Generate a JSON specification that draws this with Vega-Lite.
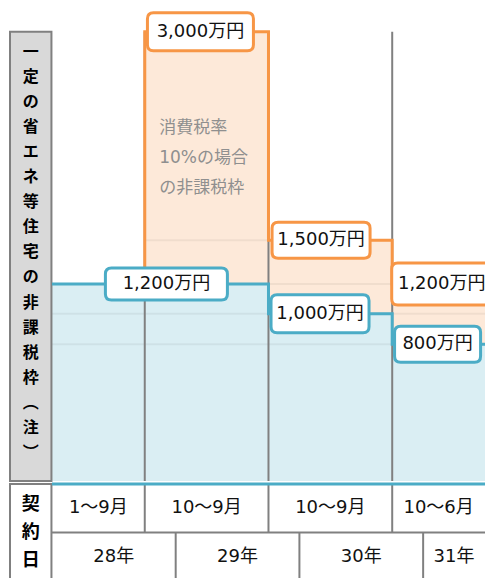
{
  "$schema": "https://vega.github.io/schema/vega-lite/v6.json",
  "padding": 0,
  "background": "white",
  "spacing": 0,
  "config": {"view": {"stroke": null}},
  "datasets": {
    "steps": [
      {"series": "orange", "month": 9, "value": 1200},
      {"series": "orange", "month": 21, "value": 3000},
      {"series": "orange", "month": 33, "value": 1500},
      {"series": "orange", "month": 42, "value": 1200},
      {"series": "blue", "month": 0, "value": 1200},
      {"series": "blue", "month": 21, "value": 1200},
      {"series": "blue", "month": 33, "value": 1000},
      {"series": "blue", "month": 42, "value": 800}
    ],
    "grid": [
      {"value": 1500, "from": 9, "to": 33},
      {"value": 1200, "from": 0, "to": 42},
      {"value": 1000, "from": 0, "to": 42},
      {"value": 800, "from": 0, "to": 42}
    ],
    "dividers": [{"month": 9}, {"month": 21}, {"month": 33}],
    "labels": [
      {"name": "o3000", "series": "orange", "month": 14.4, "value": 3000, "label": "3,000万円"},
      {"name": "o1500", "series": "orange", "month": 26.1, "value": 1500, "label": "1,500万円"},
      {"name": "o1200", "series": "orange", "month": 37.8, "value": 1200, "label": "1,200万円"},
      {"name": "b1200", "series": "blue", "month": 11.1, "value": 1200, "label": "1,200万円"},
      {"name": "b1000", "series": "blue", "month": 26.0, "value": 1000, "label": "1,000万円"},
      {"name": "b800", "series": "blue", "month": 37.4, "value": 800, "label": "800万円"}
    ],
    "notes": [
      {"text": "消費税率\n10%の場合\nの非課税枠", "month": 10.4, "value": 2295}
    ],
    "sidetitle": [
      {"text": "一\n定\nの\n省\nエ\nネ\n等\n住\n宅\nの\n非\n課\n税\n枠\n︵\n注\n︶", "month": -2.06, "value": 2850}
    ],
    "cells": [
      {"label": "1～9月", "mid": 4.5, "row": 1.5},
      {"label": "10～9月", "mid": 15, "row": 1.5},
      {"label": "10～9月", "mid": 27, "row": 1.5},
      {"label": "10～6月", "mid": 37.5, "row": 1.5},
      {"label": "28年", "mid": 6, "row": 0.5},
      {"label": "29年", "mid": 18, "row": 0.5},
      {"label": "30年", "mid": 30, "row": 0.5},
      {"label": "31年", "mid": 39, "row": 0.5}
    ],
    "tlines": [
      {"month": 9, "lo": 1, "hi": 2},
      {"month": 21, "lo": 1, "hi": 2},
      {"month": 33, "lo": 1, "hi": 2},
      {"month": 12, "lo": 0, "hi": 1},
      {"month": 24, "lo": 0, "hi": 1},
      {"month": 36, "lo": 0, "hi": 1}
    ],
    "tabletitle": [
      {"text": "契\n約\n日", "month": -2.06, "row": 1.57}
    ]
  },
  "vconcat": [
    {
      "width": 485,
      "height": 481,
      "layer": [
        {
          "data": {"name": "steps"},
          "transform": [{"filter": "datum.series === 'orange'"}],
          "mark": {"type": "area", "interpolate": "step-before", "color": "#fde9d9", "opacity": 1},
          "encoding": {
            "x": {"field": "month", "type": "quantitative", "axis": null, "scale": {"domain": [-5.04, 42], "nice": false, "zero": false}},
            "y": {"field": "value", "type": "quantitative", "axis": null, "scale": {"type": "pow", "exponent": 0.9, "domain": [0, 3236], "nice": false, "zero": true}}
          }
        },
        {
          "data": {"name": "steps"},
          "transform": [{"filter": "datum.series === 'blue'"}],
          "mark": {"type": "area", "interpolate": "step-before", "color": "#daeef3", "opacity": 1},
          "encoding": {
            "x": {"field": "month", "type": "quantitative", "axis": null, "scale": {"domain": [-5.04, 42], "nice": false, "zero": false}},
            "y": {"field": "value", "type": "quantitative", "axis": null, "scale": {"type": "pow", "exponent": 0.9, "domain": [0, 3236], "nice": false, "zero": true}}
          }
        },
        {
          "data": {"name": "grid"},
          "mark": {"type": "rule", "color": "#000000", "opacity": 0.05, "strokeWidth": 2},
          "encoding": {
            "x": {"field": "from", "type": "quantitative", "axis": null, "scale": {"domain": [-5.04, 42], "nice": false, "zero": false}},
            "x2": {"field": "to"},
            "y": {"field": "value", "type": "quantitative", "axis": null, "scale": {"type": "pow", "exponent": 0.9, "domain": [0, 3236], "nice": false, "zero": true}}
          }
        },
        {
          "data": {"name": "dividers"},
          "mark": {"type": "rule", "color": "#808080", "strokeWidth": 2},
          "encoding": {
            "x": {"field": "month", "type": "quantitative", "axis": null, "scale": {"domain": [-5.04, 42], "nice": false, "zero": false}},
            "y": {"datum": 0, "type": "quantitative", "axis": null, "scale": {"type": "pow", "exponent": 0.9, "domain": [0, 3236], "nice": false, "zero": true}},
            "y2": {"datum": 3000}
          }
        },
        {
          "data": {"values": [{}]},
          "mark": {"type": "rect", "fill": "#d9d9d9", "stroke": "#808080", "strokeWidth": 2},
          "encoding": {
            "x": {"datum": -4.07, "type": "quantitative", "axis": null, "scale": {"domain": [-5.04, 42], "nice": false, "zero": false}},
            "x2": {"datum": -0.05},
            "y": {"datum": 0, "type": "quantitative", "axis": null, "scale": {"type": "pow", "exponent": 0.9, "domain": [0, 3236], "nice": false, "zero": true}},
            "y2": {"datum": 3000}
          }
        },
        {
          "data": {"name": "steps"},
          "transform": [{"filter": "datum.series === 'orange'"}],
          "mark": {"type": "line", "interpolate": "step-before", "color": "#f79646", "strokeWidth": 3},
          "encoding": {
            "x": {"field": "month", "type": "quantitative", "axis": null, "scale": {"domain": [-5.04, 42], "nice": false, "zero": false}},
            "y": {"field": "value", "type": "quantitative", "axis": null, "scale": {"type": "pow", "exponent": 0.9, "domain": [0, 3236], "nice": false, "zero": true}}
          }
        },
        {
          "data": {"name": "steps"},
          "transform": [{"filter": "datum.series === 'blue'"}],
          "mark": {"type": "line", "interpolate": "step-before", "color": "#4bacc6", "strokeWidth": 3},
          "encoding": {
            "x": {"field": "month", "type": "quantitative", "axis": null, "scale": {"domain": [-5.04, 42], "nice": false, "zero": false}},
            "y": {"field": "value", "type": "quantitative", "axis": null, "scale": {"type": "pow", "exponent": 0.9, "domain": [0, 3236], "nice": false, "zero": true}}
          }
        },
        {
          "data": {"name": "notes"},
          "mark": {"type": "text", "align": "left", "baseline": "middle", "lineBreak": "\n", "lineHeight": 30, "fontSize": 17, "font": "DejaVu Sans, Noto Sans CJK JP", "color": "#8f8f8f"},
          "encoding": {
            "x": {"field": "month", "type": "quantitative", "axis": null, "scale": {"domain": [-5.04, 42], "nice": false, "zero": false}},
            "y": {"field": "value", "type": "quantitative", "axis": null, "scale": {"type": "pow", "exponent": 0.9, "domain": [0, 3236], "nice": false, "zero": true}},
            "text": {"field": "text"}
          }
        },
        {
          "data": {"name": "sidetitle"},
          "mark": {"type": "text", "align": "center", "baseline": "middle", "lineBreak": "\n", "lineHeight": 25.06, "fontSize": 16, "fontWeight": "bold", "font": "Noto Sans CJK JP", "color": "#000000"},
          "encoding": {
            "x": {"field": "month", "type": "quantitative", "axis": null, "scale": {"domain": [-5.04, 42], "nice": false, "zero": false}},
            "y": {"field": "value", "type": "quantitative", "axis": null, "scale": {"type": "pow", "exponent": 0.9, "domain": [0, 3236], "nice": false, "zero": true}},
            "text": {"field": "text"}
          }
        },
        {
          "data": {"name": "labels"},
          "mark": {"type": "point", "filled": false, "fill": "white", "fillOpacity": 1, "opacity": 1, "strokeWidth": 3, "size": 10000},
          "encoding": {
            "x": {"field": "month", "type": "quantitative", "axis": null, "scale": {"domain": [-5.04, 42], "nice": false, "zero": false}},
            "y": {"field": "value", "type": "quantitative", "axis": null, "scale": {"type": "pow", "exponent": 0.9, "domain": [0, 3236], "nice": false, "zero": true}},
            "stroke": {"field": "series", "type": "nominal", "legend": null, "scale": {"domain": ["orange", "blue"], "range": ["#f79646", "#4bacc6"]}},
            "shape": {"field": "name", "type": "nominal", "legend": null, "scale": {
              "domain": ["o3000", "o1500", "o1200", "b1200", "b1000", "b800"],
              "range": [
                "M-0.94,-0.38 L0.94,-0.38 Q1.06,-0.38 1.06,-0.26 L1.06,0.26 Q1.06,0.38 0.94,0.38 L-0.94,0.38 Q-1.06,0.38 -1.06,0.26 L-1.06,-0.26 Q-1.06,-0.38 -0.94,-0.38 Z",
                "M-0.86,-0.36 L0.86,-0.36 Q0.98,-0.36 0.98,-0.24 L0.98,0.24 Q0.98,0.36 0.86,0.36 L-0.86,0.36 Q-0.98,0.36 -0.98,0.24 L-0.98,-0.24 Q-0.98,-0.36 -0.86,-0.36 Z",
                "M-0.88,-0.42 L0.88,-0.42 Q1,-0.42 1,-0.3 L1,0.3 Q1,0.42 0.88,0.42 L-0.88,0.42 Q-1,0.42 -1,0.3 L-1,-0.3 Q-1,-0.42 -0.88,-0.42 Z",
                "M-1.1,-0.32 L1.1,-0.32 Q1.22,-0.32 1.22,-0.2 L1.22,0.2 Q1.22,0.32 1.1,0.32 L-1.1,0.32 Q-1.22,0.32 -1.22,0.2 L-1.22,-0.2 Q-1.22,-0.32 -1.1,-0.32 Z",
                "M-0.86,-0.38 L0.86,-0.38 Q0.98,-0.38 0.98,-0.26 L0.98,0.26 Q0.98,0.38 0.86,0.38 L-0.86,0.38 Q-0.98,0.38 -0.98,0.26 L-0.98,-0.26 Q-0.98,-0.38 -0.86,-0.38 Z",
                "M-0.74,-0.36 L0.74,-0.36 Q0.86,-0.36 0.86,-0.24 L0.86,0.24 Q0.86,0.36 0.74,0.36 L-0.74,0.36 Q-0.86,0.36 -0.86,0.24 L-0.86,-0.24 Q-0.86,-0.36 -0.74,-0.36 Z"
              ]
            }}
          }
        },
        {
          "data": {"name": "labels"},
          "mark": {"type": "text", "align": "center", "baseline": "middle", "fontSize": 18, "font": "DejaVu Sans, Noto Sans CJK JP", "color": "#111111"},
          "encoding": {
            "x": {"field": "month", "type": "quantitative", "axis": null, "scale": {"domain": [-5.04, 42], "nice": false, "zero": false}},
            "y": {"field": "value", "type": "quantitative", "axis": null, "scale": {"type": "pow", "exponent": 0.9, "domain": [0, 3236], "nice": false, "zero": true}},
            "text": {"field": "label"}
          }
        }
      ]
    },
    {
      "width": 485,
      "height": 97,
      "layer": [
        {
          "data": {"values": [{}]},
          "mark": {"type": "rect", "fill": "white", "stroke": "#808080", "strokeWidth": 2},
          "encoding": {
            "x": {"datum": -4.07, "type": "quantitative", "axis": null, "scale": {"domain": [-5.04, 42], "nice": false, "zero": false}},
            "x2": {"datum": -0.05},
            "y": {"datum": 0, "type": "quantitative", "axis": null, "scale": {"domain": [0, 2], "nice": false, "zero": false}},
            "y2": {"datum": 2}
          }
        },
        {
          "data": {"values": [{}]},
          "mark": {"type": "rule", "color": "#808080", "strokeWidth": 2},
          "encoding": {
            "x": {"datum": 0, "type": "quantitative", "axis": null, "scale": {"domain": [-5.04, 42], "nice": false, "zero": false}},
            "x2": {"datum": 42},
            "y": {"datum": 1, "type": "quantitative", "axis": null, "scale": {"domain": [0, 2], "nice": false, "zero": false}}
          }
        },
        {
          "data": {"name": "tlines"},
          "mark": {"type": "rule", "color": "#808080", "strokeWidth": 2},
          "encoding": {
            "x": {"field": "month", "type": "quantitative", "axis": null, "scale": {"domain": [-5.04, 42], "nice": false, "zero": false}},
            "y": {"field": "lo", "type": "quantitative", "axis": null, "scale": {"domain": [0, 2], "nice": false, "zero": false}},
            "y2": {"field": "hi"}
          }
        },
        {
          "data": {"values": [{}]},
          "mark": {"type": "rule", "color": "#4bacc6", "strokeWidth": 3},
          "encoding": {
            "x": {"datum": 0, "type": "quantitative", "axis": null, "scale": {"domain": [-5.04, 42], "nice": false, "zero": false}},
            "x2": {"datum": 42},
            "y": {"datum": 2, "type": "quantitative", "axis": null, "scale": {"domain": [0, 2], "nice": false, "zero": false}}
          }
        },
        {
          "data": {"name": "cells"},
          "mark": {"type": "text", "align": "center", "baseline": "middle", "fontSize": 18, "font": "DejaVu Sans, Noto Sans CJK JP", "color": "#111111"},
          "encoding": {
            "x": {"field": "mid", "type": "quantitative", "axis": null, "scale": {"domain": [-5.04, 42], "nice": false, "zero": false}},
            "y": {"field": "row", "type": "quantitative", "axis": null, "scale": {"domain": [0, 2], "nice": false, "zero": false}},
            "text": {"field": "label"}
          }
        },
        {
          "data": {"name": "tabletitle"},
          "mark": {"type": "text", "align": "center", "baseline": "middle", "lineBreak": "\n", "lineHeight": 28, "fontSize": 18, "fontWeight": "bold", "font": "Noto Sans CJK JP", "color": "#000000"},
          "encoding": {
            "x": {"field": "month", "type": "quantitative", "axis": null, "scale": {"domain": [-5.04, 42], "nice": false, "zero": false}},
            "y": {"field": "row", "type": "quantitative", "axis": null, "scale": {"domain": [0, 2], "nice": false, "zero": false}},
            "text": {"field": "text"}
          }
        }
      ]
    }
  ]
}
